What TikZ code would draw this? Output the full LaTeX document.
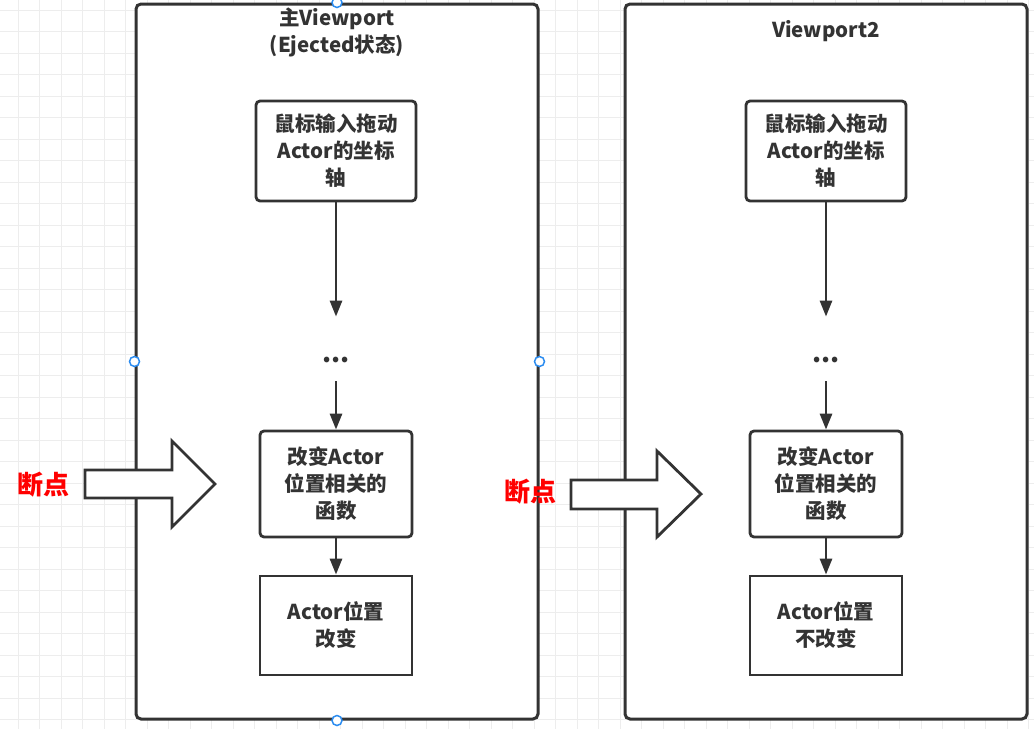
\documentclass[tikz,border=0pt]{standalone}
\usepackage{fontspec}
\setmainfont{Noto Sans CJK SC}
\usetikzlibrary{arrows.meta}
\definecolor{ink}{HTML}{333333}
\definecolor{gridc}{HTML}{EDEDED}
\definecolor{handlec}{HTML}{2B8CF0}

\begin{document}
\begin{tikzpicture}[x=1pt,y=-1pt,line width=2.8pt,
  frame/.style={draw=ink,fill=white,rounded corners=5pt,line width=3pt,minimum width=402pt,minimum height=715pt,inner sep=0pt},
  stepbox/.style={draw=ink,fill=white,rounded corners=4pt,line width=2.8pt,inner sep=0pt,align=center,text=ink,font=\bfseries\fontsize{20.5}{27}\selectfont},
  endbox/.style={stepbox,sharp corners},
  title/.style={align=center,text=ink,inner sep=0pt,font=\bfseries\fontsize{20.5}{27}\selectfont},
  dots/.style={inner xsep=0pt,inner ysep=18pt,text height=26pt,text depth=0pt,text=ink,font=\bfseries\fontsize{26}{26}\selectfont},
  flow/.style={draw=ink,line width=2.8pt,-{Triangle[length=16pt,width=12pt]}},
  bigarrow/.style={draw=ink,fill=white,line width=2.8pt,line join=miter},
  breaklbl/.style={text=red,inner sep=0pt,font=\bfseries\fontsize{26}{26}\selectfont},
  handle/.style={circle,draw=handlec,fill=white,line width=1.5pt,minimum size=10pt,inner sep=0pt}]
\path[use as bounding box] (0,0) rectangle (1034,729);
% background grid
\foreach \gx in {0,...,47}
  \draw[gridc,line width=1pt] ({18.4+21.5*\gx},0) -- ({18.4+21.5*\gx},729);
\foreach \gy in {0,...,33}
  \draw[gridc,line width=1pt] (0,{10.4+21.5*\gy}) -- (1034,{10.4+21.5*\gy});
% left viewport
\node[frame] (viewL) at (337,361.5) {};
\node[title] (titleL) at (337,32.5) {主Viewport\\(Ejected状态)};
\node[stepbox,minimum width=160pt,minimum height=100pt] (dragL) at (336,151) {鼠标输入拖动\\Actor的坐标\\轴};
\node[dots] (dotsL) at (336,349) {...};
\node[stepbox,minimum width=152pt,minimum height=106pt] (funcL) at (336,484) {改变Actor\\位置相关的\\函数};
\node[endbox,minimum width=152pt,minimum height=99pt] (resL) at (336,625.5) {Actor位置\\改变};
\draw[flow] (dragL.south) -- (dotsL.north);
\draw[flow] (dotsL.south) -- (funcL.north);
\draw[flow] (funcL.south) -- (resL.north);
% right viewport
\node[frame] (viewR) at (826,361.5) {};
\node[title] (titleR) at (826,31) {Viewport2};
\node[stepbox,minimum width=160pt,minimum height=100pt] (dragR) at (826,151) {鼠标输入拖动\\Actor的坐标\\轴};
\node[dots] (dotsR) at (826,349) {...};
\node[stepbox,minimum width=152pt,minimum height=106pt] (funcR) at (826,484) {改变Actor\\位置相关的\\函数};
\node[endbox,minimum width=152pt,minimum height=99pt] (resR) at (826,625.5) {Actor位置\\不改变};
\draw[flow] (dragR.south) -- (dotsR.north);
\draw[flow] (dotsR.south) -- (funcR.north);
\draw[flow] (funcR.south) -- (resR.north);
% breakpoints
\node[breaklbl] (breakL) at (43.5,485) {断点};
\draw[bigarrow] (85,470) -- (172,470) -- (172,441) -- (215,484) -- (172,527) -- (172,498) -- (85,498) -- cycle;
\node[breaklbl] (breakR) at (530,492) {断点};
\draw[bigarrow] (571,480) -- (657,480) -- (657,451) -- (701,494) -- (657,537) -- (657,509) -- (571,509) -- cycle;
% selection handles
\node[handle] (hN) at (viewL.north) {};
\node[handle] (hW) at (viewL.west) {};
\node[handle] (hE) at (viewL.east) {};
\node[handle] (hS) at (viewL.south) {};
\end{tikzpicture}
\end{document}
